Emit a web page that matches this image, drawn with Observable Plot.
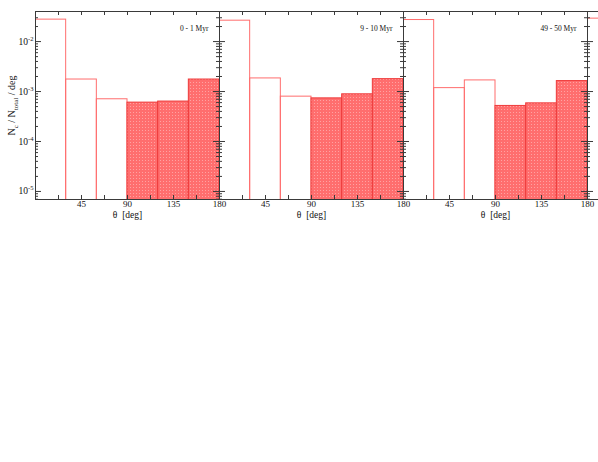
<!DOCTYPE html>
<html><head><meta charset="utf-8">
<script src="https://cdn.jsdelivr.net/npm/d3@7"></script>
<script src="https://cdn.jsdelivr.net/npm/@observablehq/plot@0.6"></script>
<style>
html,body{margin:0;padding:0;background:#fff;overflow:hidden;}
#chart svg{display:block;}
</style></head><body><div id="chart"></div>
<script>
// ---- data ----
const panelLabels = ["0 - 1 Myr", "9 - 10 Myr", "49 - 50 Myr"];
const binEdges = [0, 30, 60, 90, 120, 150, 180];
const filledBins = [false, false, false, true, true, true];
const panel1 = [0.0275, 1.74e-3, 7.0e-4, 6.0e-4, 6.3e-4, 1.74e-3];
const panel2 = [0.0262, 1.83e-3, 7.9e-4, 7.3e-4, 8.8e-4, 1.77e-3];
const panel3 = [0.0270, 1.17e-3, 1.67e-3, 5.15e-4, 5.8e-4, 1.62e-3];
const panel4 = [0.0288]; // next panel, cut off at the right edge: only its first bin shows
const panels = [panel1, panel2, panel3, panel4];
const xTickLabels = [45, 90, 135, 180];
const xTickMarks = [22.5, 45, 67.5, 90, 112.5, 135, 157.5];
const yMajor = [1e-5, 1e-4, 1e-3, 1e-2];
const yMinorFactors = [2, 3, 4, 5, 6, 7, 8, 9];
const yDomain = [6.9e-6, 0.04];

// ---- derived tables ----
const rows = [];
panels.forEach((vals, p) => vals.forEach((v, j) => rows.push({
  panel: p, x1: binEdges[j], x2: binEdges[j + 1], value: v, filled: filledBins[j]
})));
const yMinor = [];
[1e-6, ...yMajor].forEach(m => yMinorFactors.forEach(f => {
  const v = m * f; if (v >= yDomain[0] && v <= yDomain[1]) yMinor.push(v);
}));
const facetKeys = panels.map((d, i) => i);
const labelledFacets = panelLabels.map((d, i) => i);
const xLabelRows = [];
labelledFacets.forEach(p => xTickLabels.forEach(t => xLabelRows.push({panel: p, x: t})));
const baseline = yDomain[0] / 2; // bar bottoms sit below the frame and are clipped

const W = 184, H = 188;
const frameColor = "#3a3a3a";

const svg = Plot.plot({
  width: 35 + 4 * W,
  height: 225,
  marginLeft: 35, marginRight: 0, marginTop: 11, marginBottom: 26,
  style: {fontFamily: "'Liberation Serif', 'DejaVu Serif', serif", maxWidth: "none", background: "#fff"},
  fx: {domain: facetKeys, axis: null, padding: 0},
  x: {domain: [0, 180], axis: null},
  y: {type: "log", domain: yDomain, axis: null},
  marks: [
    Plot.rect(rows.filter(d => !d.filled), {fx: "panel", x1: "x1", x2: "x2", y1: baseline, y2: "value",
      fill: "none", stroke: "#ff6d6d", strokeWidth: 1, clip: "frame"}),
    Plot.rect(rows.filter(d => d.filled), {fx: "panel", x1: "x1", x2: "x2", y1: baseline, y2: "value",
      fill: "url(#hatch)", stroke: "#ee3a3a", strokeWidth: 1, clip: "frame"}),
    // inward tick marks
    Plot.tickX(xTickMarks, {x: d => d, insetTop: H - 4, stroke: frameColor}),
    Plot.tickX(xTickMarks, {x: d => d, insetBottom: H - 4, stroke: frameColor}),
    Plot.tickY(yMajor, {y: d => d, insetRight: W - 6, stroke: frameColor}),
    Plot.tickY(yMajor, {y: d => d, insetLeft: W - 6, stroke: frameColor}),
    Plot.tickY(yMinor, {y: d => d, insetRight: W - 3, stroke: frameColor}),
    Plot.tickY(yMinor, {y: d => d, insetLeft: W - 3, stroke: frameColor}),
    Plot.frame({stroke: frameColor}),
    // x tick labels (only for the three fully shown panels)
    Plot.text(xLabelRows, {fx: "panel", x: "x", text: d => String(d.x), frameAnchor: "bottom", dy: 4.5,
      lineAnchor: "middle", fontSize: 9, fill: "#111"}),
    Plot.axisY(yMajor, {anchor: "left", tickSize: 0, tickPadding: 2, fontSize: 9.5, fill: "#111",
      tickFormat: d => String(Math.round(Math.log10(d))),
      label: "N / N / deg", labelAnchor: "center", labelOffset: 28, labelArrow: "none"}),
    Plot.text(panelLabels, {fx: (d, i) => i, text: d => d, frameAnchor: "top-right", dx: -11, dy: 17.5,
      lineAnchor: "middle", fontSize: 7.5, fill: "#111"}),
    Plot.text(labelledFacets, {fx: d => d, text: () => "θ  [deg]", frameAnchor: "bottom", dy: 15,
      lineAnchor: "middle", fontSize: 9.5, fill: "#111"})
  ]
});

const ns = "http://www.w3.org/2000/svg";
// pattern for the filled bars
const defs = document.createElementNS(ns, "defs");
defs.innerHTML = '<pattern id="hatch" width="3" height="3" patternUnits="userSpaceOnUse">' +
  '<rect width="3" height="3" fill="#ff6e6e"/><rect x="1" y="1" width="1" height="1" fill="#ffa2a2"/></pattern>';
svg.insertBefore(defs, svg.firstChild);

// superscript exponents on y tick labels
svg.querySelectorAll('g[aria-label="y-axis tick label"] text').forEach(t => {
  const e = t.textContent;
  t.textContent = "10";
  const ts = document.createElementNS(ns, "tspan");
  ts.setAttribute("dy", "-4");
  ts.setAttribute("font-size", "6.5");
  ts.textContent = e;
  t.appendChild(ts);
});
// subscripts on y label
const lab = svg.querySelector('g[aria-label="y-axis label"] text');
if (lab) {
  lab.textContent = "";
  lab.setAttribute("font-size", "10");
  const parts = [["N", 0, null], ["c", 3, "7"], [" / N", -3, null], ["total", 3, "7"], [" / deg", -3, null]];
  parts.forEach(([s, dy, fs]) => {
    const ts = document.createElementNS(ns, "tspan");
    ts.setAttribute("dy", dy);
    if (fs) ts.setAttribute("font-size", fs);
    ts.textContent = s;
    lab.appendChild(ts);
  });
}
document.getElementById("chart").appendChild(svg);
</script>
</body></html>
